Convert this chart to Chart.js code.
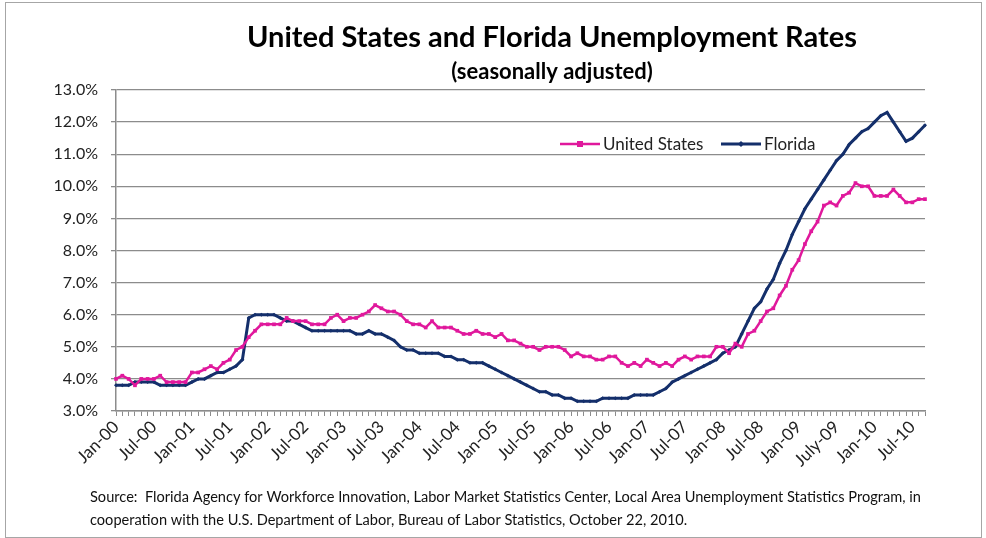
<!DOCTYPE html>
<html>
<head>
<meta charset="utf-8">
<script src="https://cdn.jsdelivr.net/npm/chart.js@4.4.1/dist/chart.umd.min.js"></script>
<style>
  body{ margin:0; background:#fff; }
  #wrap{ position:relative; width:986px; height:538px; }
  #frame{ position:absolute; left:5px; top:2px; width:975px; height:534px; border:1px solid #a6a6a6; pointer-events:none; }
</style>
</head>
<body>
<div id="wrap">
  <canvas id="chart"></canvas>
  <div id="frame"></div>
</div>
<script>
// ================= DATA =================
const title = "United States and Florida Unemployment Rates";
const subtitle = "(seasonally adjusted)";
const sourceLines = [
    "Source:  Florida Agency for Workforce Innovation, Labor Market Statistics Center, Local Area Unemployment Statistics Program, in",
    "cooperation with the U.S. Department of Labor, Bureau of Labor Statistics, October 22, 2010."
];

const monthNames = ["Jan","Feb","Mar","Apr","May","Jun","Jul","Aug","Sep","Oct","Nov","Dec"];
const years = ["00","01","02","03","04","05","06","07","08","09","10"];

// one label shown every 6 months
const tickLabels = ["Jan-00","Jul-00","Jan-01","Jul-01","Jan-02","Jul-02","Jan-03","Jul-03",
    "Jan-04","Jul-04","Jan-05","Jul-05","Jan-06","Jul-06","Jan-07","Jul-07",
    "Jan-08","Jul-08","Jan-09","July-09","Jan-10","Jul-10"];

const usRate = [
    4.0,4.1,4.0,3.8,4.0,4.0,4.0,4.1,3.9,3.9,3.9,3.9,      // 2000
    4.2,4.2,4.3,4.4,4.3,4.5,4.6,4.9,5.0,5.3,5.5,5.7,      // 2001
    5.7,5.7,5.7,5.9,5.8,5.8,5.8,5.7,5.7,5.7,5.9,6.0,      // 2002
    5.8,5.9,5.9,6.0,6.1,6.3,6.2,6.1,6.1,6.0,5.8,5.7,      // 2003
    5.7,5.6,5.8,5.6,5.6,5.6,5.5,5.4,5.4,5.5,5.4,5.4,      // 2004
    5.3,5.4,5.2,5.2,5.1,5.0,5.0,4.9,5.0,5.0,5.0,4.9,      // 2005
    4.7,4.8,4.7,4.7,4.6,4.6,4.7,4.7,4.5,4.4,4.5,4.4,      // 2006
    4.6,4.5,4.4,4.5,4.4,4.6,4.7,4.6,4.7,4.7,4.7,5.0,      // 2007
    5.0,4.8,5.1,5.0,5.4,5.5,5.8,6.1,6.2,6.6,6.9,7.4,      // 2008
    7.7,8.2,8.6,8.9,9.4,9.5,9.4,9.7,9.8,10.1,10.0,10.0,   // 2009
    9.7,9.7,9.7,9.9,9.7,9.5,9.5,9.6,9.6                   // 2010
];

const flRate = [
    3.8,3.8,3.8,3.9,3.9,3.9,3.9,3.8,3.8,3.8,3.8,3.8,      // 2000
    3.9,4.0,4.0,4.1,4.2,4.2,4.3,4.4,4.6,5.9,6.0,6.0,      // 2001
    6.0,6.0,5.9,5.8,5.8,5.7,5.6,5.5,5.5,5.5,5.5,5.5,      // 2002
    5.5,5.5,5.4,5.4,5.5,5.4,5.4,5.3,5.2,5.0,4.9,4.9,      // 2003
    4.8,4.8,4.8,4.8,4.7,4.7,4.6,4.6,4.5,4.5,4.5,4.4,      // 2004
    4.3,4.2,4.1,4.0,3.9,3.8,3.7,3.6,3.6,3.5,3.5,3.4,      // 2005
    3.4,3.3,3.3,3.3,3.3,3.4,3.4,3.4,3.4,3.4,3.5,3.5,      // 2006
    3.5,3.5,3.6,3.7,3.9,4.0,4.1,4.2,4.3,4.4,4.5,4.6,      // 2007
    4.8,4.9,5.0,5.4,5.8,6.2,6.4,6.8,7.1,7.6,8.0,8.5,      // 2008
    8.9,9.3,9.6,9.9,10.2,10.5,10.8,11.0,11.3,11.5,11.7,11.8, // 2009
    12.0,12.2,12.3,12.0,11.7,11.4,11.5,11.7,11.9          // 2010
];

// one category per month, Jan-00 .. Sep-10
const months = [];
years.forEach(y => monthNames.forEach(m => months.push(m + "-" + y)));
months.length = usRate.length;

const font = "Lato, 'Open Sans', sans-serif";

// ================= TEXT / LEGEND PLUGIN =================
const extras = {
    id: "extras",
    afterDraw(chart){
        const ctx = chart.ctx;
        ctx.save();
        ctx.fillStyle = "#000";
        ctx.textAlign = "center";
        ctx.textBaseline = "middle";
        ctx.font = "bold 29px " + font;
        ctx.fillText(title, 552, 38);
        ctx.font = "bold 22px " + font;
        ctx.fillText(subtitle, 552, 72);

        // legend
        ctx.textAlign = "left";
        ctx.font = "17px " + font;
        const entries = [{x:560, ds:0}, {x:721, ds:1}];
        entries.forEach(e => {
            const d = chart.data.datasets[e.ds];
            ctx.strokeStyle = d.borderColor;
            ctx.lineWidth = d.borderWidth;
            ctx.beginPath();
            ctx.moveTo(e.x, 144);
            ctx.lineTo(e.x + 40, 144);
            ctx.stroke();
            ctx.fillStyle = d.borderColor;
            if(d.pointStyle === "rect"){
                ctx.fillRect(e.x + 17, 141, 6, 6);
            }else{
                ctx.beginPath();
                ctx.moveTo(e.x + 20, 141); ctx.lineTo(e.x + 23, 144);
                ctx.lineTo(e.x + 20, 147); ctx.lineTo(e.x + 17, 144);
                ctx.fill();
            }
            ctx.fillStyle = "#222";
            ctx.fillText(d.label, e.x + 43, 145);
        });

        // source note
        ctx.font = "14.6px " + font;
        ctx.fillStyle = "#111";
        ctx.fillText(sourceLines[0], 90, 497);
        ctx.fillText(sourceLines[1], 90, 520);
        ctx.restore();
    }
};

// ================= CHART =================
const ctx = document.getElementById("chart").getContext("2d");

new Chart(ctx, {
    type: "line",
    data: {
        labels: months,
        datasets: [{
            label: "United States",
            data: usRate,
            borderColor: "#e0189c",
            backgroundColor: "#e0189c",
            borderWidth: 2.5,
            pointStyle: "rect",
            pointRadius: 2.6,
            pointBorderWidth: 0,
            tension: 0
        },{
            label: "Florida",
            data: flRate,
            borderColor: "#142f6b",
            backgroundColor: "#142f6b",
            borderWidth: 3,
            pointStyle: "rectRot",
            pointRadius: 2,
            pointBorderWidth: 0,
            tension: 0
        }]
    },
    options: {
        responsive: true,
        maintainAspectRatio: false,
        animation: false,
        layout: { padding: { left: 0, right: 61, top: 90, bottom: 57 } },
        plugins: {
            legend: { display: false },
            tooltip: { enabled: false }
        },
        scales: {
            x: {
                offset: false,
                grid: { drawOnChartArea: false, color: "#8c8c8c", tickLength: 5 },
                border: { color: "#8c8c8c", width: 1.5 },
                ticks: {
                    autoSkip: false,
                    minRotation: 45,
                    maxRotation: 45,
                    color: "#222",
                    font: { family: font, size: 17 },
                    padding: 1,
                    callback: (v, i) => i % 6 === 0 ? tickLabels[i / 6] : ""
                },
                afterFit: s => { s.height = 70; }
            },
            y: {
                min: 3,
                max: 13,
                grid: { color: "#8c8c8c", lineWidth: 1.3, tickLength: 5 },
                border: { color: "#8c8c8c", width: 1.5 },
                ticks: {
                    stepSize: 1,
                    color: "#222",
                    font: { family: font, size: 16 },
                    padding: 13,
                    callback: v => v.toFixed(1) + "%"
                },
                afterFit: s => { s.width = 116; }
            }
        }
    },
    plugins: [extras]
});
</script>
</body>
</html>
